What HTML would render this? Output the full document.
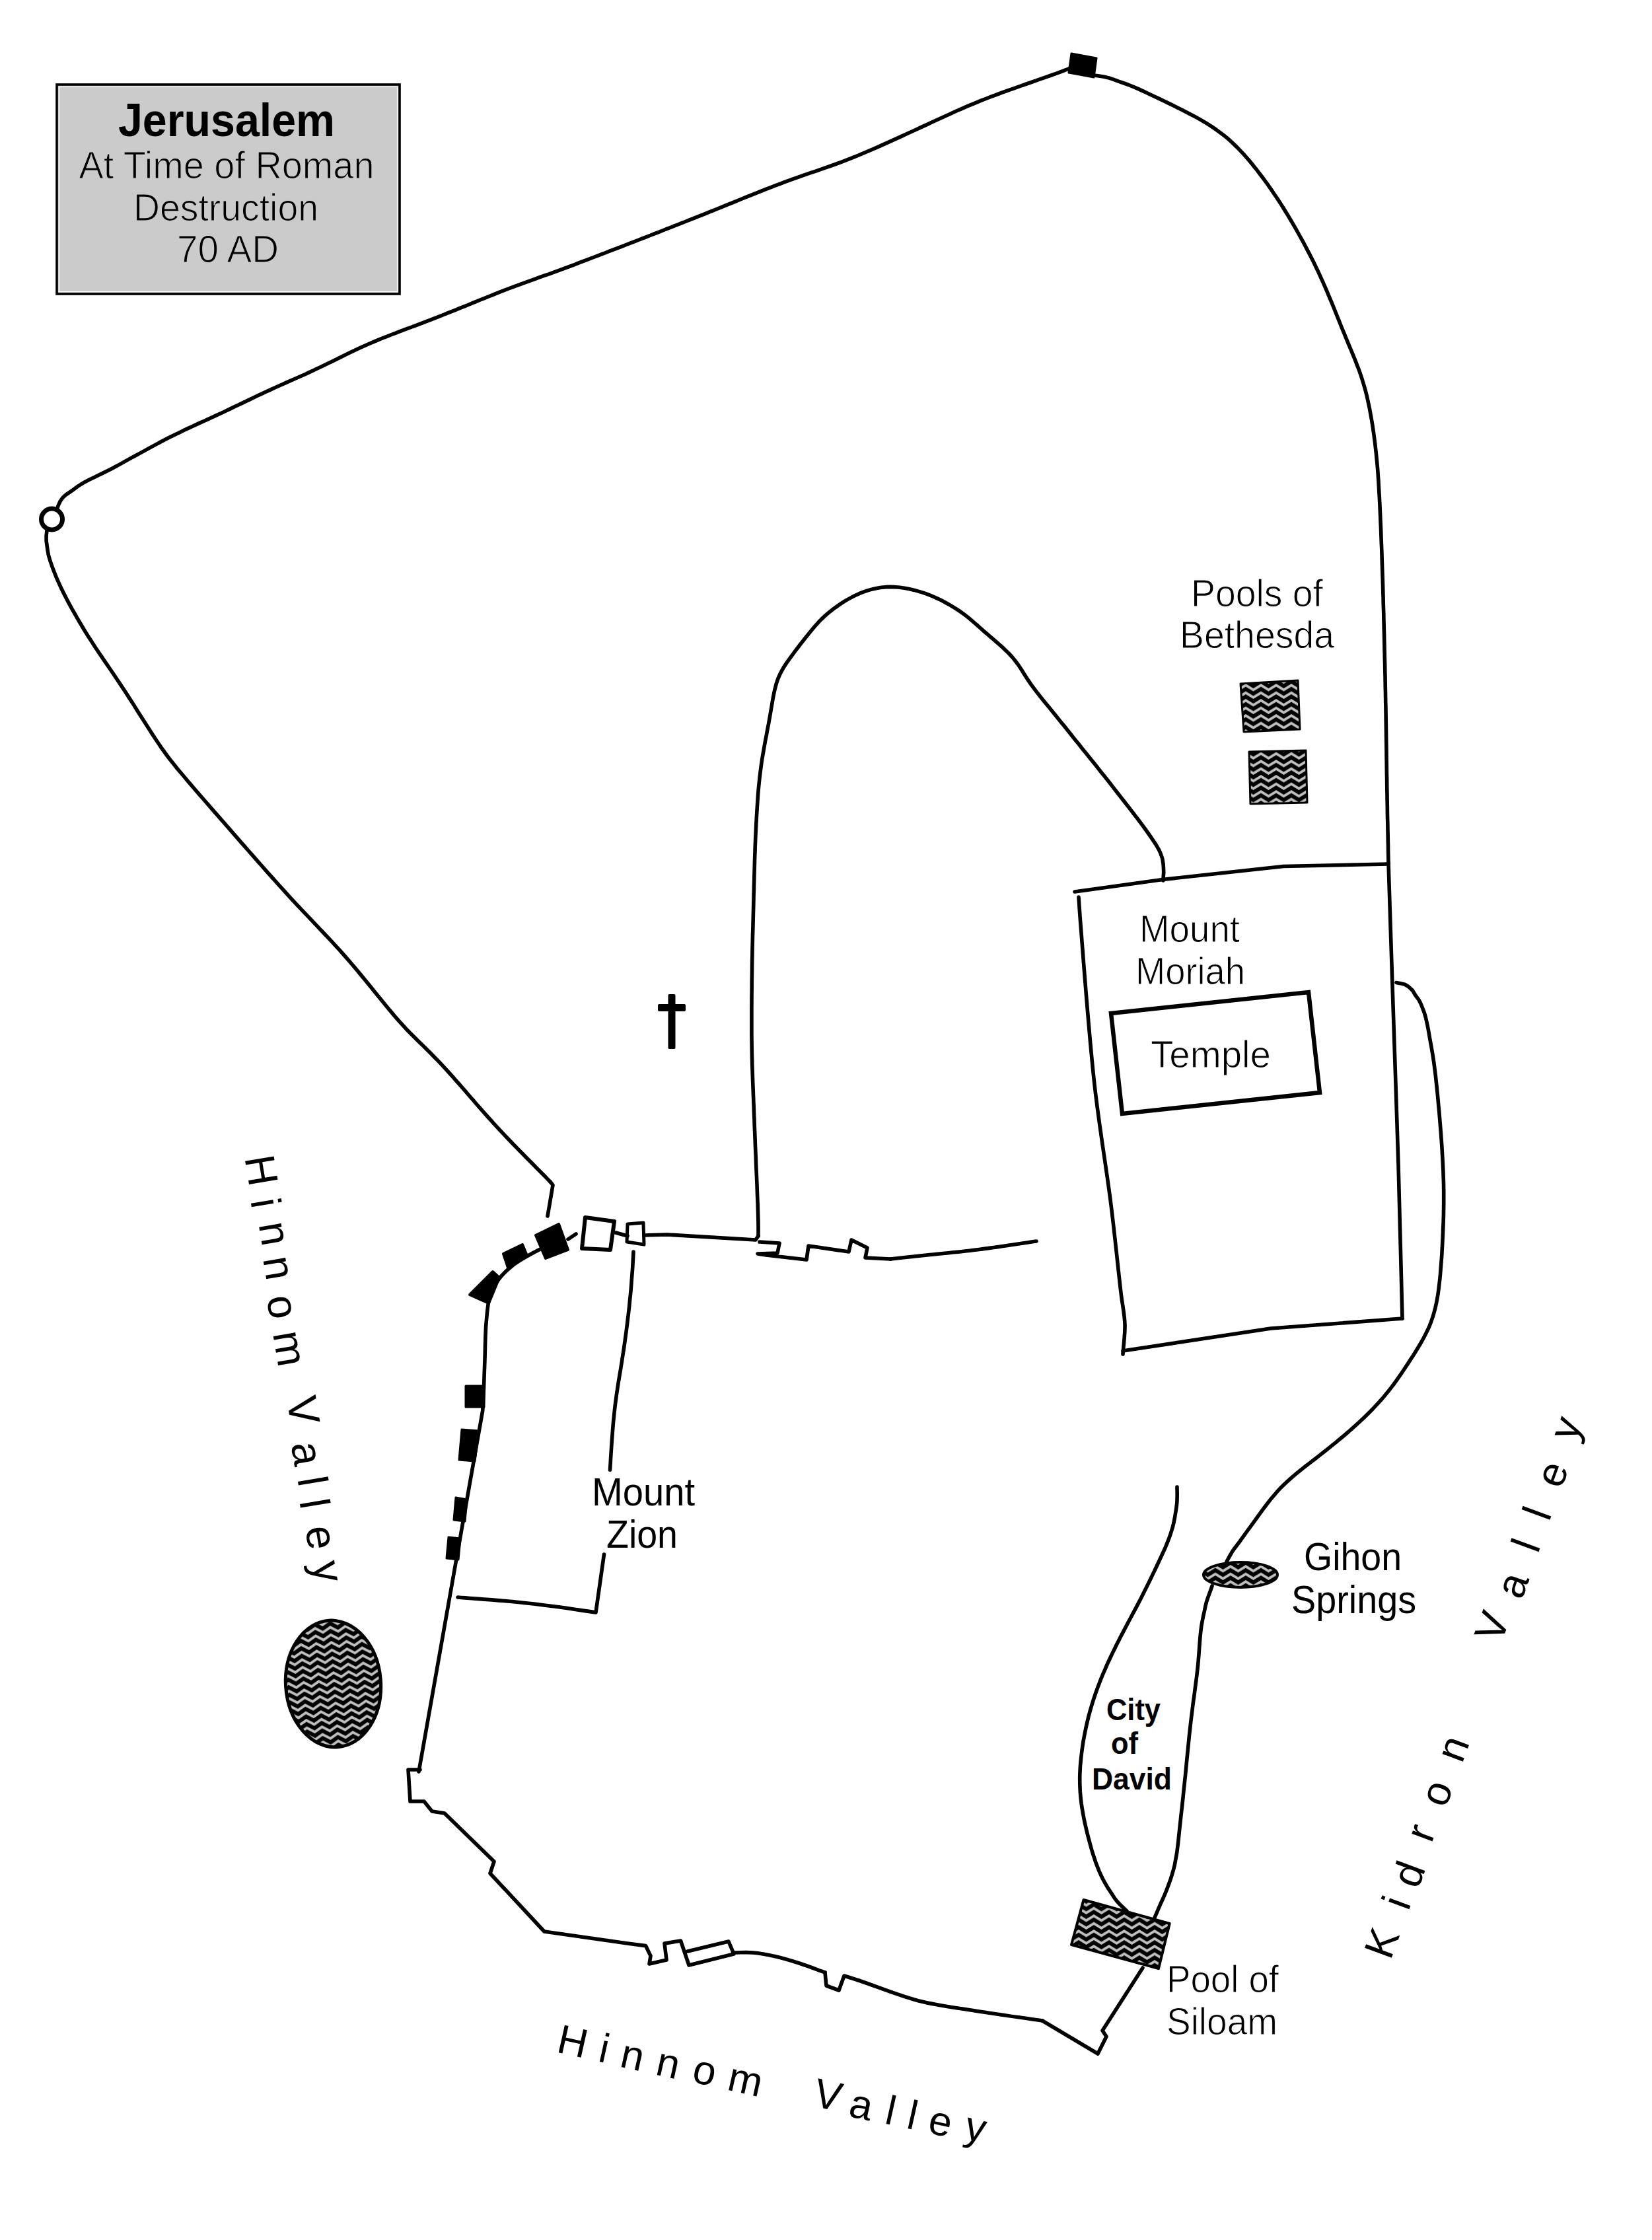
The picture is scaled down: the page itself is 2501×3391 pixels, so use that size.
<!DOCTYPE html>
<html><head><meta charset="utf-8"><style>
html,body{margin:0;padding:0;background:#fff;overflow:hidden;}
svg{display:block;}
</style></head><body>
<svg width="2501" height="3391" viewBox="0 0 2501 3391">
<defs>
<pattern id="wz" patternUnits="userSpaceOnUse" width="23" height="11.5">
<rect width="23" height="11.5" fill="#000"/>
<path d="M-11.5 9.3 L0 2.3 L11.5 9.3 L23 2.3 L34.5 9.3" stroke="#c0c0c0" stroke-width="3.9" fill="none"/>
</pattern>
</defs>
<rect width="2501" height="3391" fill="#fff"/>
<g stroke="#000" stroke-linejoin="round" stroke-linecap="round">
<path d="M829 1841 L837 1794 L833 1789" stroke-width="5.6" fill="none"/>
<path d="M833 1789 L828.7 1784.6 L824.5 1780.3 L820.2 1776 L816 1771.7 L811.7 1767.4 L807.4 1763.1 L803.2 1758.8 L798.9 1754.5 L794.7 1750.2 L790.4 1745.8 L786.1 1741.5 L781.9 1737.1 L777.6 1732.7 L773.3 1728.3 L769 1723.8 L764.8 1719.4 L760.6 1714.9 L756.4 1710.4 L752.2 1705.9 L748 1701.3 L743.9 1696.7 L738.7 1691 L734.6 1686.4 L730.4 1681.7 L725.3 1675.8 L721.1 1671 L717 1666.2 L712.8 1661.5 L708.7 1656.7 L703.5 1650.7 L699.4 1646 L695.4 1641.4 L691.3 1636.8 L686.4 1631.1 L680.4 1624.5 L674.4 1617.9 L669.3 1612.4 L665.1 1607.9 L660.8 1603.4 L656.4 1599 L650.8 1593.3 L645.2 1587.7 L640.7 1583.3 L636.3 1579 L631.9 1574.8 L625.7 1568.6 L620.6 1563.5 L614.5 1557.2 L609.7 1551.9 L604.9 1546.7 L599.2 1540.2 L593.5 1533.4 L587.9 1526.7 L582.4 1520 L577.9 1514.5 L573.4 1508.9 L567.9 1502.2 L563.3 1496.5 L558.7 1490.9 L553.9 1485 L550 1480.2 L546 1475.4 L540.9 1469.3 L536.8 1464.4 L531.6 1458.3 L527.6 1453.6 L523.5 1448.9 L519.5 1444.3 L514.5 1438.7 L508.4 1432.1 L502.5 1425.6 L496.4 1419.1 L492.2 1414.7 L488 1410.3 L483.8 1405.8 L479.6 1401.4 L475.3 1396.9 L471.1 1392.4 L466.8 1387.9 L462.5 1383.4 L458.2 1378.9 L454 1374.4 L449.7 1369.8 L445.5 1365.3 L441.3 1360.8 L437.2 1356.3 L433 1351.7 L428.9 1347.2 L424.8 1342.7 L420.7 1338.1 L416.6 1333.5 L412.5 1329 L408.4 1324.4 L404.3 1319.8 L400.2 1315.1 L396.1 1310.5 L392 1305.9 L388 1301.3 L383.9 1296.7 L379.9 1292.1 L375.8 1287.5 L371.8 1282.9 L367.8 1278.3 L363.8 1273.8 L359.8 1269.2 L355.8 1264.6 L350.8 1258.9 L346.7 1254.2 L342.6 1249.5 L338.4 1244.7 L333.1 1238.7 L328.8 1233.7 L324.5 1228.8 L320.2 1223.8 L315.9 1218.9 L311.6 1214 L306.4 1208 L302.3 1203.3 L298.2 1198.6 L293.4 1193 L288.8 1187.6 L283.3 1181.2 L277.9 1174.8 L272.6 1168.5 L267.2 1162.1 L262.8 1156.5 L257.4 1149.8 L253.2 1144.2 L248.3 1137.5 L244.2 1131.9 L240.3 1126 L235.6 1119 L230.9 1111.9 L227.6 1106.8 L224.3 1101.6 L220.9 1096.2 L216.6 1089.5 L213.1 1084 L209.6 1078.4 L206.1 1072.9 L202.7 1067.4 L198.4 1060.7 L194.9 1055.4 L191.5 1050.1 L188.1 1044.8 L184.6 1039.6 L181.2 1034.4 L177.7 1029.2 L173.4 1022.7 L169 1016.2 L165.4 1011 L161.9 1005.9 L158.4 1000.8 L154.1 994.4 L150.6 989.3 L147.2 984.2 L143.8 979.2 L140.5 974.1 L137.3 969 L134 963.9 L129.9 957.4 L126.7 952.2 L123.5 946.8 L120.3 941.5 L116.3 934.7 L113.2 929.1 L109.3 922.3 L106.3 916.8 L103.3 911.4 L100.5 906 L97.1 899.4 L93.1 891.3 L89.9 884.4 L87.4 878.8 L84.9 873.1 L82.6 867.2 L79.2 858.4 L77.1 852.4 L75.2 846.6 L73.5 840.7 L72.1 833.3 L71.1 826 L70.1 818.8 L70.1 810.9 L71 803" stroke-width="5.6" fill="none"/>
<path d="M86 772 L88 765.7 L91.3 758.5 L95 753.3 L99.6 749.1 L104.8 745.6 L111.3 741.1 L117.5 736.4 L122.9 733 L128.5 729.7 L134.4 726.6 L143.4 722.2 L149.3 719.3 L155.4 716.4 L161.2 713.5 L168.2 709.9 L173.7 707 L180.5 703.4 L188.5 698.9 L193.9 695.9 L199.3 692.9 L204.7 690 L211.4 686.4 L216.9 683.4 L223.7 679.6 L230.5 675.9 L236.1 672.9 L241.8 669.8 L248.9 666.1 L254.6 663.1 L261.8 659.5 L267.6 656.7 L273.4 653.9 L279.1 651.1 L284.9 648.4 L290.6 645.7 L296.3 643.1 L302.1 640.4 L309.2 637.2 L314.9 634.6 L320.6 632 L326.2 629.4 L331.9 626.8 L337.5 624.2 L343.1 621.5 L348.6 618.9 L355.4 615.6 L360.9 613 L366.4 610.4 L371.9 607.7 L377.4 605.1 L384.3 601.8 L389.9 599.1 L396.8 595.9 L402.3 593.3 L409.2 590.1 L414.8 587.5 L420.4 585 L426.1 582.5 L431.8 579.9 L437.4 577.4 L444.5 574.3 L450.2 571.8 L456 569.2 L461.7 566.7 L468.7 563.4 L474.4 560.8 L480 558.1 L485.6 555.5 L491.1 552.8 L496.7 550.1 L502.2 547.4 L507.7 544.7 L513.2 541.9 L518.7 539.2 L524.2 536.5 L529.8 533.8 L536.7 530.5 L543.6 527.2 L549.1 524.7 L554.7 522.2 L560.3 519.7 L566 517.3 L573 514.4 L580.1 511.5 L585.8 509.3 L591.5 507 L597.2 504.8 L603 502.6 L608.8 500.4 L616.1 497.7 L622 495.5 L627.8 493.3 L633.7 491.1 L639.5 488.9 L645.4 486.7 L652.6 483.9 L658.4 481.6 L664.2 479.4 L671.4 476.5 L677.1 474.2 L682.9 471.9 L690 469.1 L695.7 466.7 L704.3 463.3 L710 461 L715.6 458.6 L721.3 456.3 L726.9 454 L732.5 451.8 L739.4 449 L745 446.8 L753.3 443.4 L761.7 440.2 L769.9 437 L778.2 433.9 L786.4 430.9 L794.6 427.9 L803 424.8 L810 422.3 L815.8 420.2 L822.8 417.7 L831.1 414.8 L837.9 412.3 L847.4 408.8 L855.5 405.8 L862.3 403.3 L869.1 400.8 L875.8 398.2 L883.8 395.2 L890.4 392.7 L898.6 389.5 L905.6 386.9 L911.3 384.7 L917 382.5 L922.8 380.2 L930.2 377.4 L936.1 375.1 L942.1 372.8 L948 370.5 L954 368.2 L960.1 365.8 L966.1 363.5 L972.1 361.1 L978.1 358.8 L984.1 356.5 L990 354.2 L997.3 351.3 L1003.2 349 L1009 346.7 L1014.7 344.5 L1020.4 342.2 L1026.2 340 L1031.9 337.7 L1037.6 335.5 L1043.4 333.2 L1049.1 330.9 L1054.8 328.6 L1060.6 326.4 L1066.3 324.1 L1073.5 321.2 L1079.3 318.8 L1085.1 316.5 L1092.3 313.6 L1098.1 311.2 L1103.8 308.9 L1109.5 306.6 L1115.1 304.3 L1120.7 302 L1127.7 299.2 L1135.9 295.9 L1142.8 293.2 L1150.9 289.9 L1158.9 286.7 L1165.7 284.1 L1173.9 280.9 L1180.8 278.3 L1187.7 275.7 L1198.8 271.7 L1207.2 268.7 L1215.7 265.7 L1222.8 263.2 L1228.6 261.2 L1234.3 259.3 L1241.3 256.9 L1249.8 253.9 L1258.1 251 L1266.5 248 L1274.9 244.9 L1283.2 241.7 L1291.5 238.4 L1299.9 235 L1305.4 232.7 L1311 230.3 L1316.6 227.9 L1322.1 225.5 L1327.7 223.1 L1333.2 220.6 L1338.7 218.1 L1344.3 215.6 L1349.8 213.1 L1355.3 210.6 L1360.9 208.1 L1366.4 205.6 L1371.9 203 L1377.4 200.5 L1382.9 198 L1388.4 195.5 L1393.9 192.9 L1399.4 190.4 L1404.9 187.9 L1410.3 185.3 L1415.8 182.8 L1421.3 180.3 L1426.8 177.7 L1432.3 175.2 L1437.8 172.7 L1444.7 169.5 L1450.3 167 L1455.9 164.6 L1461.5 162.1 L1467.2 159.7 L1473 157.3 L1480.2 154.3 L1486.1 151.9 L1493.6 149 L1499.7 146.6 L1505.8 144.3 L1512.1 142 L1518.3 139.7 L1526.2 136.9 L1534.1 134.1 L1540.4 131.8 L1546.7 129.7 L1554.2 127 L1561.4 124.5 L1568.2 122.1 L1575.1 119.7 L1583.2 116.8 L1591.3 114 L1598.7 111.4 L1606.9 108.3 L1612.6 106.1 L1618 104" stroke-width="5.6" fill="none"/>
<circle cx="78.5" cy="786" r="16" stroke-width="7" fill="#fff"/>
<path d="M1622 81 L1660 88 L1656 117 L1618 110 Z" stroke-width="3" fill="#000"/>
<path d="M1656 114 L1663.9 115.1 L1671.7 116.3 L1677.8 117.7 L1686.7 120.6 L1693.4 123.2 L1700.3 125.5 L1708.7 128.5 L1717 131.9 L1723.9 134.9 L1729.4 137.4 L1735 140 L1740.6 142.7 L1747.6 146 L1754.8 149.4 L1760.8 152.3 L1769.8 156.6 L1775.8 159.6 L1783.1 163.2 L1788.8 166 L1794.5 168.9 L1800.2 171.9 L1807.1 175.5 L1812.4 178.4 L1819 182.1 L1826.6 186.7 L1834.1 191.4 L1841.4 196.4 L1848.6 201.7 L1854.6 206.3 L1859.2 210.2 L1863.7 214.2 L1868.1 218.4 L1872.5 222.6 L1877.8 228.1 L1883 233.7 L1887.1 238.3 L1891.1 242.9 L1895 247.6 L1898.8 252.4 L1902.6 257.1 L1907.2 263.2 L1910.9 268 L1914.5 272.9 L1918 277.7 L1921.5 282.7 L1925 287.6 L1928.4 292.7 L1932.7 299 L1936 304.1 L1939.4 309.3 L1942.7 314.5 L1945.9 319.8 L1949.2 325.1 L1953.2 331.7 L1956.3 337 L1960.2 343.7 L1963.3 349.1 L1966.3 354.5 L1970.1 361.3 L1973.1 366.7 L1976 372.2 L1979.6 379.1 L1982.5 384.6 L1986 391.6 L1988.8 397.1 L1991.5 402.7 L1994.2 408.3 L1996.9 414 L2000.1 421.1 L2003.3 428.2 L2005.8 433.9 L2008.3 439.6 L2010.7 445.3 L2013.1 451.1 L2016.1 458.2 L2019.6 466.8 L2021.9 472.5 L2024.2 478.2 L2027.1 485.4 L2029.4 491.2 L2031.7 497 L2034.7 504.2 L2037 509.9 L2039.4 515.6 L2042.4 522.8 L2044.8 528.5 L2047.7 535.6 L2050.1 541.4 L2052.4 547.1 L2054.6 552.9 L2057.4 560.1 L2059.5 566 L2061.9 573.3 L2063.7 579.3 L2065.5 585.2 L2067.6 592.7 L2069.1 598.7 L2070.5 604.8 L2072.1 612.4 L2073.4 618.5 L2074.5 624.6 L2075.6 630.7 L2076.7 636.8 L2077.7 642.8 L2078.8 650.3 L2079.9 657.9 L2080.9 665.5 L2081.7 671.5 L2082.7 680.4 L2083.5 687.7 L2084.5 697.9 L2085.2 705.1 L2085.9 713.8 L2086.4 721 L2086.9 728.3 L2087.3 735.6 L2087.8 744.4 L2088.2 750.4 L2088.6 758 L2089 765.7 L2089.4 775.3 L2089.7 781.7 L2090 789.5 L2090.3 795.7 L2090.6 801.9 L2090.8 808.1 L2091 814.1 L2091.3 821.6 L2091.7 830.6 L2092 839.4 L2092.2 846.7 L2092.5 855.4 L2092.8 864.1 L2093.1 873.1 L2093.3 879.2 L2093.5 885.3 L2093.7 891.5 L2093.8 897.7 L2094.1 905.5 L2094.2 911.8 L2094.4 918.1 L2094.6 924.4 L2094.8 930.8 L2094.9 937.1 L2095.1 943.5 L2095.2 949.8 L2095.4 956.2 L2095.6 962.5 L2095.7 968.8 L2095.9 976.6 L2096 982.8 L2096.2 989 L2096.3 995.2 L2096.5 1001.4 L2096.7 1009.1 L2096.8 1016.8 L2097 1023 L2097.1 1029.2 L2097.2 1035.5 L2097.3 1041.7 L2097.5 1049.5 L2097.6 1055.8 L2097.7 1062.2 L2097.9 1068.5 L2098 1074.9 L2098.1 1081.3 L2098.2 1087.6 L2098.3 1093.9 L2098.4 1100.2 L2098.5 1106.5 L2098.6 1114.3 L2098.7 1120.5 L2098.8 1126.7 L2098.9 1132.8 L2099 1138.9 L2099 1144.9 L2099.2 1153.8 L2099.3 1162.6 L2099.4 1171.3 L2099.6 1178.5 L2099.7 1187.3 L2099.8 1194.7 L2100 1202 L2100.1 1210.9 L2100.3 1219.8 L2100.4 1228.8 L2100.6 1239.3 L2100.8 1245.4 L2100.9 1251.5 L2101 1257.5 L2101.2 1264.9 L2101.3 1272.3 L2101.5 1279.6 L2101.6 1288.3 L2101.8 1297.1 L2102 1306" stroke-width="5.6" fill="none"/>
<path d="M1627 1350 L1760 1331.5 L1943 1311.5 L2102 1308" stroke-width="5.6" fill="none"/>
<path d="M2102 1306 C2103 1337.3 2103.8 1363.5 2105 1400 C2106.6 1450.7 2109 1521.4 2111 1582 C2113 1642.4 2115.1 1698.9 2117 1763 C2119.1 1835.8 2121 1918.3 2123 1996" stroke-width="5.6" fill="none"/>
<path d="M2123 1996 L1924 2011 L1700 2045" stroke-width="5.6" fill="none"/>
<path d="M1700 2050 C1701 2035 1703.4 2020.2 1703 2005 C1702.5 1989.2 1699.4 1977 1697 1957 C1693 1923.7 1688 1871.8 1682 1824 C1675 1768 1664.3 1707.1 1657 1642 C1648.6 1567.2 1639.8 1447.5 1636 1400 C1634.4 1380.2 1634 1372 1633 1358" stroke-width="5.6" fill="none"/>
<path d="M1682 1534 L1981 1502 L1998 1654 L1699 1686 Z" stroke-width="6.5" fill="none" stroke-linejoin="miter"/>
<path d="M1148 1871 L1148 1864.2 L1148 1857.2 L1147.9 1848.8 L1147.7 1841.3 L1147.5 1833.9 L1147.3 1827.9 L1147.1 1821.3 L1146.7 1812.8 L1146.4 1805.3 L1146.2 1799 L1145.9 1791 L1145.6 1784.4 L1145.2 1776 L1144.9 1769.1 L1144.6 1762.3 L1144.4 1755.4 L1144.1 1748.5 L1143.8 1741.6 L1143.4 1733.2 L1143.2 1726.6 L1142.9 1720.1 L1142.6 1712.2 L1142.3 1706 L1142.1 1699.8 L1141.9 1693.6 L1141.6 1687.5 L1141.4 1681.4 L1141.2 1675.2 L1140.9 1669.1 L1140.7 1663 L1140.4 1657 L1140.1 1648 L1139.7 1639.1 L1139.4 1630.2 L1139.1 1621.3 L1138.8 1612.4 L1138.6 1603.4 L1138.4 1597.4 L1138.3 1591.3 L1138.2 1585.3 L1138.1 1579.2 L1138 1573 L1137.9 1566.9 L1137.9 1560.6 L1137.9 1554.3 L1137.9 1547.9 L1137.9 1541.4 L1137.9 1533.2 L1137.9 1526.5 L1138 1516.5 L1138 1509.9 L1138.1 1503.3 L1138.2 1495.2 L1138.2 1488.8 L1138.3 1482.5 L1138.4 1476.4 L1138.5 1469 L1138.6 1460.6 L1138.7 1454 L1138.9 1446 L1139 1437.9 L1139.2 1429.9 L1139.4 1421.5 L1139.5 1415.5 L1139.8 1407.2 L1140 1399.2 L1140.2 1391.1 L1140.4 1383 L1140.6 1376.4 L1140.8 1367.9 L1141 1360.4 L1141.1 1354.2 L1141.3 1347.8 L1141.5 1339.7 L1141.7 1333.1 L1141.9 1324.7 L1142.1 1318 L1142.3 1311.3 L1142.5 1302.9 L1142.7 1296.3 L1143 1289.8 L1143.2 1281.9 L1143.5 1275.7 L1143.7 1269.7 L1144 1263.7 L1144.3 1257.6 L1144.7 1248.5 L1145.1 1242.3 L1145.4 1236.1 L1145.8 1229.8 L1146.2 1223.6 L1146.6 1217.5 L1147 1211.4 L1147.6 1202.6 L1148.3 1193.9 L1149.2 1185.2 L1150.1 1176.5 L1151.2 1167.6 L1152 1161.7 L1152.8 1155.6 L1153.7 1149.6 L1154.7 1143.5 L1155.8 1137.5 L1156.8 1131.5 L1157.9 1125.5 L1159 1119.6 L1160.2 1113.6 L1161.3 1107.6 L1162.4 1101.6 L1163.6 1095.5 L1164.7 1089.3 L1165.8 1083 L1166.9 1076.6 L1168 1070.1 L1169.1 1063.7 L1170.2 1057.3 L1171.4 1051.1 L1173 1043.7 L1175.2 1035.2 L1178 1027 L1181.4 1019.3 L1186.2 1010.6 L1191.1 1003.1 L1196.3 995.8 L1200 990.8 L1203.8 985.7 L1207.6 980.7 L1211.5 975.5 L1215.5 970.5 L1219.4 965.5 L1223.4 960.5 L1227.3 955.7 L1231.2 951 L1235.2 946.3 L1239.3 941.8 L1243.6 937.4 L1248 933.2 L1252.6 929.2 L1257.4 925.2 L1262.4 921.3 L1267.6 917.6 L1272.9 913.9 L1278.3 910.4 L1283.9 907.1 L1289.5 904.1 L1295.1 901.3 L1300.7 898.7 L1306.4 896.4 L1312.1 894.4 L1317.9 892.6 L1323.7 891.2 L1332.5 889.5 L1341.5 888.6 L1347.5 888.4 L1353.6 888.6 L1359.7 889 L1365.8 889.8 L1372 890.7 L1378.2 892 L1384.3 893.4 L1390.3 895.1 L1396.3 896.9 L1402.2 898.9 L1408 901.1 L1413.7 903.5 L1419.4 906.1 L1425 908.8 L1430.6 911.7 L1436 914.7 L1441.3 917.8 L1446.6 921.1 L1451.7 924.4 L1456.8 928 L1461.7 931.6 L1466.5 935.4 L1471.2 939.4 L1475.9 943.5 L1480.6 947.5 L1485.2 951.7 L1489.9 955.8 L1494.7 959.9 L1499.5 964.1 L1504.3 968.2 L1509.1 972.4 L1514 976.6 L1518.7 980.9 L1523.2 985.2 L1527.6 989.5 L1531.8 994 L1535.7 998.7 L1541.1 1005.8 L1546.1 1013.3 L1549.3 1018.5 L1554.9 1027.2 L1559.7 1034.4 L1564.8 1041.4 L1569.9 1048.1 L1575.3 1054.9 L1579.9 1060.7 L1583.8 1065.5 L1587.8 1070.3 L1591.8 1075.2 L1597.9 1082.8 L1601.9 1087.7 L1606.7 1093.7 L1610.6 1098.4 L1615.3 1104.3 L1619.9 1110 L1624.4 1115.7 L1628.2 1120.4 L1632 1125.1 L1635.9 1130 L1639.8 1134.9 L1643.8 1139.8 L1647.8 1144.7 L1651.8 1149.7 L1655.7 1154.6 L1659.7 1159.6 L1663.6 1164.5 L1667.5 1169.4 L1671.4 1174.2 L1675.2 1179 L1679.8 1184.8 L1684.3 1190.6 L1689.8 1197.7 L1694.5 1203.7 L1699.4 1209.9 L1703.3 1215 L1708.4 1221.5 L1713.3 1227.9 L1717.2 1233 L1721 1237.9 L1724.7 1242.8 L1729.1 1248.7 L1734.1 1255.5 L1739.1 1262.5 L1744 1269.6 L1749.7 1278.1 L1754.2 1285.8 L1756.8 1291.3 L1759.7 1299.6 L1761.1 1308.3 L1761.5 1314.3 L1761.7 1320.5 L1761.2 1328.3 L1761 1333" stroke-width="5.6" fill="none"/>
<path d="M975 1870 L1010 1869 L1144 1877 L1148 1871" stroke-width="5.6" fill="none"/>
<path d="M1150 1880 L1180 1882 L1177 1897 L1147 1898 L1160 1900 L1221 1907 L1224 1886 L1285 1895 L1289 1877 L1313 1889 L1310 1904 L1348 1906" stroke-width="5.6" fill="none"/>
<path d="M1348 1906 C1366.3 1904 1383.2 1902.1 1403 1900 C1426.1 1897.5 1451.8 1895.3 1478 1892 C1506.9 1888.4 1538.7 1883.3 1569 1879" stroke-width="5.6" fill="none"/>
<path d="M811 1870 L846 1853 L860 1892 L826 1905 Z" stroke-width="4" fill="#000"/>
<path d="M860 1876 L872 1868" stroke-width="5.6" fill="none"/>
<path d="M886 1843 L930 1849 L924 1892 L881 1890 Z" stroke-width="6" fill="none"/>
<path d="M932 1866 L950 1871" stroke-width="5.6" fill="none"/>
<path d="M950 1853 L974 1851 L975 1884 L949 1880 Z" stroke-width="5" fill="none"/>
<path d="M762 1898 L791 1884 L798 1901 L769 1919 Z" stroke-width="4" fill="#000"/>
<path d="M711 1960 L746 1925 L756 1934 L740 1973 Z" stroke-width="4" fill="#000"/>
<path d="M846 1878 C835.3 1883 824.9 1887.2 814 1893 C802 1899.4 787.5 1906.9 777 1915 C767.9 1922.1 760 1929.8 754 1938 C748.7 1945.3 744.9 1951.9 742 1961 C738.2 1972.8 737.3 1988.6 736 2003.6 C734.5 2020.4 734.6 2040.2 734 2057 C733.5 2072.1 733.1 2086.3 732.5 2100 C732 2112.4 731.3 2123.7 730.7 2135.6 L634 2682" stroke-width="5.6" fill="none"/>
<path d="M705 2098 L733 2098 L733 2130 L705 2130 Z" stroke-width="3" fill="#000"/>
<path d="M699 2164 L725 2166 L719 2212 L695 2210 Z" stroke-width="3" fill="#000"/>
<path d="M690 2267 L707 2270 L704 2303 L687 2301 Z" stroke-width="3" fill="#000"/>
<path d="M679 2327 L697 2329 L694 2361 L676 2359 Z" stroke-width="3" fill="#000"/>
<path d="M636 2679 L618 2679 L621 2727 L642 2727 L654 2742 L673 2745 L748 2818 L742 2836 L824 2924 L950 2942 L977.5 2945.6 L985 2961 L983 2973 L1009 2967 L1006 2942 L1030.5 2938 L1043 2975 L1111 2958 L1103 2939 L1041 2954" stroke-width="5.6" fill="none"/>
<path d="M1111 2956 C1120.7 2956 1129.9 2955.1 1140 2956 C1151.2 2956.9 1163.4 2959.4 1175 2962 C1186.7 2964.7 1198.1 2968.2 1210 2972 C1222.7 2976.1 1236 2981.3 1249 2986" stroke-width="5.6" fill="none"/>
<path d="M1249 2986 L1251 3006 L1270 3013 L1278 2991 L1300 2998" stroke-width="5.6" fill="none"/>
<path d="M1300 2998 C1330.3 3008.3 1360.9 3021.3 1391 3029 C1419.5 3036.3 1446.3 3039.2 1476 3044 C1508.4 3049.2 1544 3054 1578 3059" stroke-width="5.6" fill="none"/>
<path d="M1578 3059 L1662 3109 L1675 3083 L1669 3074 L1730 2979" stroke-width="5.6" fill="none"/>
<path d="M959 1895 L958.7 1901 L958.2 1909.9 L957.8 1917.4 L957.4 1923.5 L956.9 1929.6 L956.3 1937.1 L955.9 1943.1 L955.3 1950.6 L954.6 1958.2 L953.8 1965.8 L953.2 1972 L952.6 1978.2 L951.9 1984.3 L951.2 1990.5 L950.4 1996.6 L949.5 2004.4 L948.7 2010.6 L947.9 2016.9 L947 2023.2 L946.2 2029.4 L945.3 2035.7 L944.4 2042 L943.4 2048.2 L942.4 2054.5 L941.5 2060.7 L940.5 2066.9 L939.5 2073.1 L938.2 2080.7 L937.2 2086.8 L936.2 2092.8 L935.3 2098.7 L934.4 2104.7 L933.5 2110.7 L932.5 2118.1 L931.3 2126.9 L930.3 2135.7 L929.4 2144.4 L928.5 2153.1 L927.8 2162 L927.1 2170.9 L926.4 2179.9 L925.8 2188.8 L925.2 2197.7 L924.6 2206.8 L924.2 2214.4 L923.8 2220.5 L923.5 2225" stroke-width="5.6" fill="none"/>
<path d="M914.5 2353 L902 2441  C881.3 2438 860.5 2434.7 840 2432 C819.9 2429.4 801.9 2427.2 780 2425 C753.7 2422.4 722 2420.3 693 2418" stroke-width="5.6" fill="none"/>
<path d="M1706 2893 L1701.5 2888.8 L1695.9 2883.5 L1690.7 2877.9 L1687.1 2873.1 L1682.9 2866.6 L1679.6 2861.5 L1676.3 2856.4 L1672.5 2849.8 L1669.6 2844.5 L1666.3 2837.7 L1663.8 2832.1 L1661.6 2826.4 L1658.8 2819.2 L1656.4 2811.9 L1654.5 2806.1 L1652.7 2800.2 L1650.7 2792.9 L1649.1 2787 L1647.1 2779.6 L1645.6 2773.6 L1644.2 2767.6 L1642.8 2761.7 L1641.5 2755.7 L1640.1 2748.2 L1639 2742.2 L1638 2736.2 L1637.1 2730.3 L1636.4 2724.3 L1635.8 2718.3 L1635.3 2712.2 L1635 2706.2 L1634.8 2700.1 L1634.7 2692.5 L1634.8 2686.4 L1635.1 2680.3 L1635.4 2674.2 L1636.1 2666.7 L1636.7 2660.6 L1637.6 2653 L1638.4 2646.9 L1639.3 2640.9 L1640.2 2634.9 L1641.6 2627.5 L1642.8 2621.5 L1644 2615.6 L1645.3 2609.7 L1646.7 2603.8 L1648.1 2598 L1649.7 2592.2 L1651.3 2586.4 L1653 2580.7 L1655.7 2572.1 L1658.6 2563.5 L1661.6 2555.1 L1664.8 2546.7 L1667 2541.1 L1669.3 2535.5 L1671.7 2530 L1674.1 2524.4 L1676.5 2518.9 L1679.7 2512 L1682.3 2506.5 L1685 2500.9 L1687.7 2495.4 L1690.4 2489.8 L1693.3 2484.2 L1696.8 2477.2 L1699.8 2471.6 L1702.7 2466 L1705.7 2460.4 L1709.3 2453.5 L1712.3 2448 L1715.2 2442.5 L1718.1 2437.1 L1721 2431.6 L1723.9 2426.1 L1726.7 2420.7 L1729.5 2415.3 L1732.8 2408.6 L1735.5 2403.2 L1738.2 2397.8 L1741.5 2391 L1744.2 2385.4 L1747.6 2378.4 L1751 2371.3 L1753.6 2365.6 L1756.3 2359.9 L1759.6 2352.8 L1762.2 2347.1 L1764.8 2341.3 L1767.2 2335.4 L1769.5 2329.5 L1771.7 2323.5 L1773.6 2317.5 L1775.4 2311.5 L1776.9 2305.5 L1778.4 2297.9 L1779.4 2291.9 L1780.4 2285.9 L1781.3 2279.7 L1781.9 2273.6 L1782.1 2267.5 L1782.2 2261.5 L1782 2254 L1782 2251" stroke-width="5.6" fill="none"/>
<path d="M1748 2903 L1751.5 2894.8 L1754.5 2887.8 L1756.9 2882.3 L1760.1 2875.4 L1763.2 2868.4 L1765.5 2862.8 L1768.2 2855.7 L1770.3 2850.1 L1772.3 2844.4 L1774.1 2838.6 L1776.2 2831.5 L1778.2 2824.1 L1779.8 2815.1 L1780.9 2809.2 L1781.9 2803.2 L1783 2794.3 L1783.9 2786.9 L1784.5 2780.9 L1785.3 2773.3 L1786.1 2765.7 L1786.8 2759.6 L1787.4 2753.5 L1788.1 2747.4 L1788.8 2741.3 L1789.5 2735.2 L1790.3 2727.5 L1791 2721.2 L1791.6 2715 L1792.4 2707.3 L1793.1 2701.1 L1793.7 2694.9 L1794.4 2688.8 L1795 2682.7 L1795.6 2676.6 L1796.3 2669 L1796.9 2663 L1797.5 2657 L1798.1 2651 L1798.7 2645 L1799.3 2639 L1799.9 2633 L1800.5 2627 L1801.2 2620.9 L1802 2613.4 L1802.7 2607.3 L1803.4 2601.2 L1804.2 2595.1 L1805 2589 L1805.7 2582.8 L1806.7 2575.1 L1807.6 2569 L1808.6 2561.3 L1809.4 2555.2 L1810.2 2549.1 L1811 2543 L1811.8 2536.9 L1812.5 2530.8 L1813.2 2524.6 L1813.8 2518.5 L1814.3 2512.4 L1814.8 2506.2 L1815.3 2500.1 L1815.8 2492.5 L1816.4 2484.9 L1816.9 2478.8 L1817.5 2472.7 L1818.2 2466.5 L1819 2460.5 L1820.4 2453.1 L1821.5 2447.2 L1823.5 2438.4 L1825 2431 L1826.5 2425.2 L1828.4 2419.4 L1830.9 2412.4 L1833 2406.7 L1835 2401" stroke-width="5.6" fill="none"/>
<path d="M1857 2364 L1860.1 2358.3 L1864.9 2349.8 L1868.4 2344.7 L1872.2 2339.7 L1876 2334.8 L1879.6 2329.7 L1883.3 2324.6 L1886.9 2319.5 L1891.4 2313.3 L1896.9 2305.9 L1900.5 2300.9 L1904.1 2295.9 L1907.7 2290.9 L1911.3 2285.9 L1915 2281 L1919.6 2274.9 L1923.4 2270.1 L1927.2 2265.5 L1933 2258.7 L1938.1 2253.1 L1942.3 2248.9 L1947.8 2243.7 L1953.4 2238.6 L1958 2234.6 L1962.7 2230.7 L1967.4 2226.8 L1972.1 2223.1 L1976.9 2219.3 L1983 2214.6 L1988 2210.8 L1992.9 2207 L1997.8 2203.1 L2002.7 2199.3 L2007.5 2195.5 L2012.4 2191.6 L2017.2 2187.7 L2022 2183.8 L2026.7 2179.9 L2031.5 2176 L2036.2 2172 L2040.9 2168 L2046.7 2162.8 L2052.5 2157.7 L2057.1 2153.5 L2061.6 2149.3 L2066.1 2145.1 L2071.5 2139.7 L2078 2133.2 L2082.2 2128.7 L2086.4 2124.2 L2090.5 2119.7 L2094.6 2115 L2099.4 2109.1 L2103.2 2104.4 L2106.9 2099.6 L2110.6 2094.7 L2114.1 2089.8 L2117.6 2084.8 L2121.1 2079.8 L2125.4 2073.5 L2128.8 2068.3 L2132.2 2063.1 L2135.6 2057.9 L2139 2052.7 L2142.3 2047.4 L2146.4 2040.8 L2149.6 2035.5 L2153.5 2028.7 L2156.4 2023.3 L2159.2 2017.8 L2161.9 2012.3 L2164.3 2006.8 L2166.5 2001.2 L2168.9 1994.1 L2170.7 1988.3 L2173 1979.7 L2174.9 1970.9 L2176.5 1962 L2177.4 1956.1 L2178.2 1950.1 L2179.1 1942.5 L2179.8 1936.4 L2180.4 1930.2 L2180.9 1924 L2181.4 1917.8 L2181.9 1911.6 L2182.5 1903.8 L2182.9 1897.6 L2183.2 1891.3 L2183.6 1885 L2183.9 1878.7 L2184.2 1872.5 L2184.5 1866.2 L2184.7 1859.9 L2185 1853.7 L2185.2 1847.5 L2185.4 1841.2 L2185.5 1835 L2185.6 1828.8 L2185.7 1822.6 L2185.7 1816.4 L2185.7 1810.2 L2185.7 1804 L2185.6 1797.8 L2185.5 1791.6 L2185.3 1785.4 L2185.1 1779.2 L2184.9 1773 L2184.5 1765.4 L2184.2 1759.2 L2183.9 1753.1 L2183.5 1747 L2183.2 1740.9 L2182.8 1734.8 L2182.4 1728.7 L2181.8 1721.1 L2181.4 1715.1 L2180.9 1709 L2180.4 1703 L2179.9 1697 L2179.4 1690.9 L2178.8 1683.4 L2178.2 1677.3 L2177.6 1671.2 L2177.1 1665 L2176.5 1658.8 L2175.9 1652.7 L2175.1 1644.9 L2174.4 1638.7 L2173.6 1631 L2172.9 1624.8 L2171.9 1617.1 L2171.1 1610.9 L2170.2 1604.7 L2169.3 1598.5 L2168 1590.9 L2166.4 1581.8 L2165.3 1575.8 L2164.2 1569.8 L2163.2 1563.7 L2162.1 1557.6 L2160.9 1551.5 L2159.6 1545.5 L2158.2 1539.6 L2156.5 1533.8 L2153.9 1526.8 L2151.2 1520 L2148 1513.6 L2142.9 1506.8 L2138.5 1499.4 L2131.9 1493.2 L2126.7 1490.3 L2118.8 1488.4 L2114 1487.5" stroke-width="5.6" fill="none"/>

<ellipse cx="504.5" cy="2549" rx="72" ry="96" transform="rotate(-4 504.5 2549)" fill="url(#wz)" stroke="#000" stroke-width="5"/>
<ellipse cx="1878" cy="2384" rx="56" ry="19" fill="url(#wz)" stroke="#000" stroke-width="4"/>
<path d="M1640.5 2876 L1770.7 2912 L1754 2980 L1622 2944 Z" fill="url(#wz)" stroke="#000" stroke-width="4"/>
<path d="M1878 1035 L1965 1030 L1968 1104 L1883 1108 Z" fill="url(#wz)" stroke="#000" stroke-width="3"/>
<path d="M1891 1138 L1977 1136 L1979 1215 L1893 1217 Z" fill="url(#wz)" stroke="#000" stroke-width="3"/>

</g>
<rect x="1011.5" y="1505" width="11" height="83" rx="2" fill="#000"/><rect x="996" y="1520" width="42" height="11" rx="2" fill="#000"/>

<rect x="86" y="128" width="519" height="317" fill="#cbcbcb" stroke="#000" stroke-width="3.6"/><rect x="89.5" y="131.5" width="512" height="310" fill="none" stroke="#fff" stroke-width="1.2"/>
<text x="343" y="206" font-family="Liberation Sans, sans-serif" font-size="70" font-weight="bold" text-anchor="middle" textLength="328" lengthAdjust="spacingAndGlyphs">Jerusalem</text>
<text x="343" y="270" font-family="Liberation Sans, sans-serif" font-size="57" text-anchor="middle" textLength="447" lengthAdjust="spacingAndGlyphs" stroke="#cbcbcb" stroke-width="1.2">At Time of Roman</text>
<text x="342" y="334" font-family="Liberation Sans, sans-serif" font-size="57" text-anchor="middle" textLength="280" lengthAdjust="spacingAndGlyphs" stroke="#cbcbcb" stroke-width="1.2">Destruction</text>
<text x="345" y="397" font-family="Liberation Sans, sans-serif" font-size="57" text-anchor="middle" textLength="154" lengthAdjust="spacingAndGlyphs" stroke="#cbcbcb" stroke-width="1.2">70 AD</text>

<text x="1803" y="918" font-family="Liberation Sans, sans-serif" font-size="57" textLength="200" lengthAdjust="spacingAndGlyphs" stroke="#fff" stroke-width="1">Pools of</text>
<text x="1786" y="981" font-family="Liberation Sans, sans-serif" font-size="57" textLength="234" lengthAdjust="spacingAndGlyphs" stroke="#fff" stroke-width="1">Bethesda</text>
<text x="1725" y="1426" font-family="Liberation Sans, sans-serif" font-size="57" textLength="152" lengthAdjust="spacingAndGlyphs" stroke="#fff" stroke-width="1">Mount</text>
<text x="1719" y="1490" font-family="Liberation Sans, sans-serif" font-size="57" textLength="166" lengthAdjust="spacingAndGlyphs" stroke="#fff" stroke-width="1">Moriah</text>
<text x="1742" y="1616" font-family="Liberation Sans, sans-serif" font-size="57" textLength="182" lengthAdjust="spacingAndGlyphs" stroke="#fff" stroke-width="1">Temple</text>
<text x="896" y="2279" font-family="Liberation Sans, sans-serif" font-size="60" textLength="156" lengthAdjust="spacingAndGlyphs" >Mount</text>
<text x="918" y="2343" font-family="Liberation Sans, sans-serif" font-size="60" textLength="108" lengthAdjust="spacingAndGlyphs" >Zion</text>
<text x="1974" y="2377" font-family="Liberation Sans, sans-serif" font-size="60" textLength="148" lengthAdjust="spacingAndGlyphs" >Gihon</text>
<text x="1955" y="2442" font-family="Liberation Sans, sans-serif" font-size="60" textLength="189" lengthAdjust="spacingAndGlyphs" >Springs</text>
<text x="1766" y="3016" font-family="Liberation Sans, sans-serif" font-size="57" textLength="170" lengthAdjust="spacingAndGlyphs" stroke="#fff" stroke-width="1">Pool of</text>
<text x="1766" y="3080" font-family="Liberation Sans, sans-serif" font-size="57" textLength="168" lengthAdjust="spacingAndGlyphs" stroke="#fff" stroke-width="1">Siloam</text>
<text x="1675" y="2604" font-family="Liberation Sans, sans-serif" font-size="46" font-weight="bold" textLength="82" lengthAdjust="spacingAndGlyphs">City</text>
<text x="1682" y="2655" font-family="Liberation Sans, sans-serif" font-size="46" font-weight="bold" textLength="41" lengthAdjust="spacingAndGlyphs">of</text>
<text x="1653" y="2709" font-family="Liberation Sans, sans-serif" font-size="46" font-weight="bold" textLength="121" lengthAdjust="spacingAndGlyphs">David</text>

<g font-family="Liberation Sans, sans-serif" fill="#000"><text transform="translate(374.0 1775.4) rotate(80.50)" text-anchor="middle" font-size="64">H</text><text transform="translate(380.3 1824.4) rotate(80.50)" text-anchor="middle" font-size="64">i</text><text transform="translate(394.5 1870.8) rotate(80.50)" text-anchor="middle" font-size="64">n</text><text transform="translate(401.0 1922.8) rotate(80.50)" text-anchor="middle" font-size="64">n</text><text transform="translate(406.5 1981.8) rotate(80.50)" text-anchor="middle" font-size="64">o</text><text transform="translate(417.5 2044.8) rotate(80.50)" text-anchor="middle" font-size="64">m</text><text transform="translate(437.4 2138.8) rotate(80.50)" text-anchor="middle" font-size="64">V</text><text transform="translate(443.5 2203.8) rotate(80.50)" text-anchor="middle" font-size="64">a</text><text transform="translate(451.3 2245.8) rotate(80.50)" text-anchor="middle" font-size="64">l</text><text transform="translate(454.3 2279.8) rotate(80.50)" text-anchor="middle" font-size="64">l</text><text transform="translate(465.0 2330.8) rotate(80.50)" text-anchor="middle" font-size="64">e</text><text transform="translate(475.2 2382.6) rotate(80.50)" text-anchor="middle" font-size="64">y</text></g>
<g font-family="Liberation Sans, sans-serif" fill="#000"><text transform="translate(862.6 3111.1) rotate(12.50)" text-anchor="middle" font-size="62">H</text><text transform="translate(910.5 3121.8) rotate(12.50)" text-anchor="middle" font-size="62">i</text><text transform="translate(953.4 3131.9) rotate(12.50)" text-anchor="middle" font-size="62">n</text><text transform="translate(1007.3 3143.9) rotate(12.50)" text-anchor="middle" font-size="62">n</text><text transform="translate(1062.5 3154.9) rotate(12.50)" text-anchor="middle" font-size="62">o</text><text transform="translate(1124.2 3168.9) rotate(12.50)" text-anchor="middle" font-size="62">m</text><text transform="translate(1249.2 3192.2) rotate(12.50)" text-anchor="middle" font-size="62">V</text><text transform="translate(1299.5 3206.9) rotate(12.50)" text-anchor="middle" font-size="62">a</text><text transform="translate(1344.2 3215.8) rotate(12.50)" text-anchor="middle" font-size="62">l</text><text transform="translate(1377.2 3222.8) rotate(12.50)" text-anchor="middle" font-size="62">l</text><text transform="translate(1419.5 3231.9) rotate(12.50)" text-anchor="middle" font-size="62">e</text><text transform="translate(1472.9 3240.9) rotate(12.50)" text-anchor="middle" font-size="62">y</text></g>
<g font-family="Liberation Sans, sans-serif" fill="#000"><text transform="translate(2112.2 2948.8) rotate(-69.80)" text-anchor="middle" font-size="63">K</text><text transform="translate(2134.3 2887.8) rotate(-69.80)" text-anchor="middle" font-size="63">i</text><text transform="translate(2152.9 2844.6) rotate(-69.80)" text-anchor="middle" font-size="63">d</text><text transform="translate(2170.5 2781.7) rotate(-69.80)" text-anchor="middle" font-size="63">r</text><text transform="translate(2194.5 2721.7) rotate(-69.80)" text-anchor="middle" font-size="63">o</text><text transform="translate(2219.2 2654.2) rotate(-69.80)" text-anchor="middle" font-size="63">n</text><text transform="translate(2279.2 2469.8) rotate(-69.80)" text-anchor="middle" font-size="63">V</text><text transform="translate(2309.5 2406.7) rotate(-69.80)" text-anchor="middle" font-size="63">a</text><text transform="translate(2330.3 2346.8) rotate(-69.80)" text-anchor="middle" font-size="63">l</text><text transform="translate(2347.3 2298.3) rotate(-69.80)" text-anchor="middle" font-size="63">l</text><text transform="translate(2369.5 2238.7) rotate(-69.80)" text-anchor="middle" font-size="63">e</text><text transform="translate(2390.2 2169.4) rotate(-69.80)" text-anchor="middle" font-size="63">y</text></g>

</svg>
</body></html>
